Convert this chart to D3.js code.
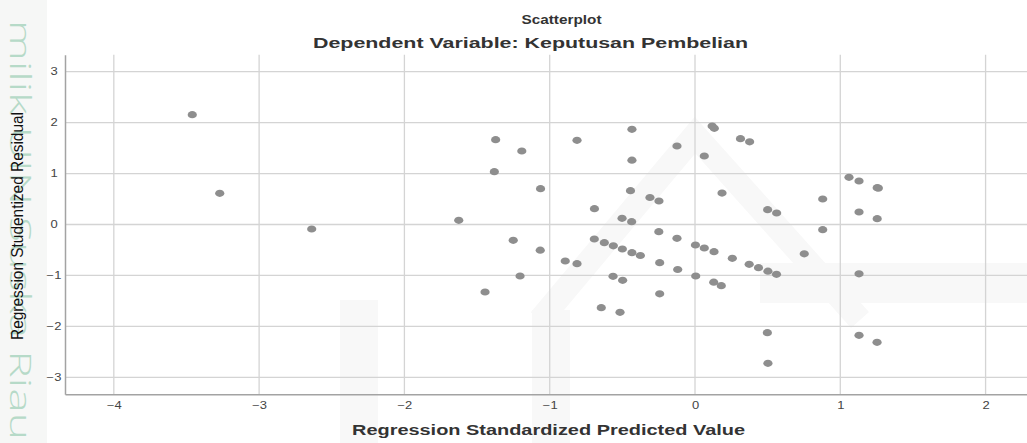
<!DOCTYPE html>
<html>
<head>
<meta charset="utf-8">
<script src="https://cdn.jsdelivr.net/npm/d3@7"></script>
<style>
  body { margin: 0; background: #fff; }
  svg { display: block; font-family: "Liberation Sans", Arial, sans-serif; }
</style>
</head>
<body>
<div id="chart"></div>
<script>
// Regression Standardized Predicted Value (x) and Studentized Residual (y)
var predicted = [
  -3.460, -3.271, -2.638, -1.626, -1.445, -1.381, -1.372, -1.251, -1.204, -1.192,
  -1.065, -1.063, -0.893, -0.812, -0.812, -0.692, -0.693, -0.645, -0.624, -0.562,
  -0.564, -0.516, -0.500, -0.502, -0.498, -0.444, -0.436, -0.434, -0.434, -0.434,
  -0.376, -0.310, -0.248, -0.249, -0.243, -0.243, -0.124, -0.124, -0.119, 0.003,
  0.005, 0.064, 0.064, 0.118, 0.133, 0.131, 0.129, 0.181, 0.186, 0.257,
  0.313, 0.376, 0.373, 0.437, 0.500, 0.498, 0.502, 0.502, 0.562, 0.561,
  0.752, 0.879, 0.879, 1.060, 1.129, 1.129, 1.129, 1.129, 1.254, 1.254,
  1.253, 1.262
];
var residual = [
  2.156, 0.613, -0.088, 0.082, -1.325, 1.037, 1.665, -0.310, -1.011, 1.443,
  -0.505, 0.703, -0.717, -0.770, 1.653, 0.310, -0.285, -1.634, -0.357, -0.418,
  -1.017, -1.724, -0.481, 0.122, -1.096, 0.664, 0.055, 1.869, 1.263, -0.554,
  -0.609, 0.530, 0.461, -0.141, -0.750, -1.361, 1.541, -0.271, -0.884, -0.403,
  -1.011, 1.345, -0.461, 1.934, 1.889, -0.534, -1.133, -1.202, 0.618, -0.664,
  1.685, 1.624, -0.781, -0.848, 0.291, -2.124, -2.725, -0.917, 0.226, -0.978,
  -0.575, 0.501, -0.102, 0.927, 0.854, 0.245, -0.968, -2.176, 0.723, 0.114,
  -2.313, 0.715
];
var xTicks = [-4, -3, -2, -1, 0, 1, 2];
var yTicks = [-3, -2, -1, 0, 1, 2, 3];
var xDomain = [-4.336, 2.336];
var yDomain = [-3.334, 3.334];

var width = 1027, height = 443;
var margin = { top: 54.7, left: 65, bottom: 48.7 };
var plotW = 969.4, plotH = height - margin.top - margin.bottom;
var stretch = 1.3; // the picture is stretched sideways

var data = predicted.map(function (d, i) {
  return { x: d, y: residual[i] };
});

var svg = d3.select("#chart").append("svg")
  .attr("width", width)
  .attr("height", height);

// left strip with the watermark text
svg.append("rect").attr("x", 0).attr("y", 0).attr("width", 47).attr("height", height)
  .attr("fill", "#f6f7f6");
svg.append("text")
  .attr("transform", "translate(20,20) rotate(90)")
  .attr("font-family", "Open Sans, sans-serif")
  .attr("font-weight", 300)
  .attr("font-size", 30)
  .attr("fill", "#b6dac8")
  .attr("dy", "0.35em")
  .attr("textLength", 420)
  .attr("lengthAdjust", "spacingAndGlyphs")
  .text("milik UIN Suska Riau");

var x = d3.scaleLinear().domain(xDomain).range([margin.left, margin.left + plotW]);
var y = d3.scaleLinear().domain(yDomain).range([margin.top + plotH, margin.top]);

// faint logo in the background
var logo = svg.append("g").attr("fill", "#f8f8f8").attr("stroke", "none");
logo.append("path")
  .attr("d", "M540,320 L695,135 L860,320")
  .attr("fill", "none").attr("stroke", "#f8f8f8").attr("stroke-width", 24);
logo.append("rect").attr("x", 760).attr("y", 263).attr("width", 270).attr("height", 40);
logo.append("rect").attr("x", 340).attr("y", 300).attr("width", 38).attr("height", 143);
logo.append("rect").attr("x", 532).attr("y", 310).attr("width", 38).attr("height", 133);

// grid lines
var grid = svg.append("g");
grid.selectAll(".gx").data(xTicks).enter().append("line")
  .attr("x1", function (d) { return x(d); })
  .attr("x2", function (d) { return x(d); })
  .attr("y1", margin.top).attr("y2", margin.top + plotH)
  .attr("stroke", "#d4d4d4").attr("stroke-width", 1.3);
grid.selectAll(".gy").data(yTicks).enter().append("line")
  .attr("x1", margin.left).attr("x2", width)
  .attr("y1", function (d) { return y(d); })
  .attr("y2", function (d) { return y(d); })
  .attr("stroke", "#d4d4d4").attr("stroke-width", 1.3);

// axes
var xAxis = svg.append("g")
  .attr("transform", "translate(0," + (margin.top + plotH) + ")")
  .call(d3.axisBottom(x).tickValues(xTicks).tickSize(0).tickPadding(8).tickFormat(d3.format("d")));
var yAxis = svg.append("g")
  .attr("transform", "translate(" + margin.left + ",0)")
  .call(d3.axisLeft(y).tickValues(yTicks).tickSize(0).tickPadding(0).tickFormat(d3.format("d")));
[xAxis, yAxis].forEach(function (a) {
  a.select(".domain").attr("stroke", "#a3a3a3").attr("stroke-width", 1.5);
  a.selectAll("text").attr("font-size", 10).attr("fill", "#444")
    .attr("font-family", "Liberation Sans, Arial, sans-serif");
});
xAxis.selectAll("text").attr("transform", "scale(" + stretch + ",1)");
yAxis.selectAll("text").attr("text-anchor", "middle")
  .attr("transform", "translate(-11,0) scale(" + stretch + ",1)");

// points
svg.append("g").selectAll("ellipse").data(data).enter().append("ellipse")
  .attr("cx", function (d) { return x(d.x); })
  .attr("cy", function (d) { return y(d.y); })
  .attr("rx", 4.6).attr("ry", 3.6)
  .attr("fill", "#8e8e8e");

// titles
function addText(txt, cx, cy, size, weight, len, color) {
  svg.append("text")
    .attr("x", cx).attr("y", cy)
    .attr("text-anchor", "middle")
    .attr("dy", "0.35em")
    .attr("font-size", size)
    .attr("font-weight", weight)
    .attr("fill", color)
    .attr("textLength", len)
    .attr("lengthAdjust", "spacingAndGlyphs")
    .text(txt);
}
addText("Scatterplot", 561.5, 19, 13.5, "bold", 80, "#333");
addText("Dependent Variable: Keputusan Pembelian", 530.5, 43, 14, "bold", 435, "#333");
addText("Regression Standardized Predicted Value", 548.5, 430, 14, "bold", 393, "#333");

svg.append("text")
  .attr("transform", "translate(18,226) scale(" + stretch + ",1) rotate(-90)")
  .attr("text-anchor", "middle")
  .attr("dy", "0.35em")
  .attr("font-size", 12)
  .attr("fill", "#111")
  .attr("textLength", 228)
  .attr("lengthAdjust", "spacingAndGlyphs")
  .text("Regression Studentized Residual");
</script>
</body>
</html>
